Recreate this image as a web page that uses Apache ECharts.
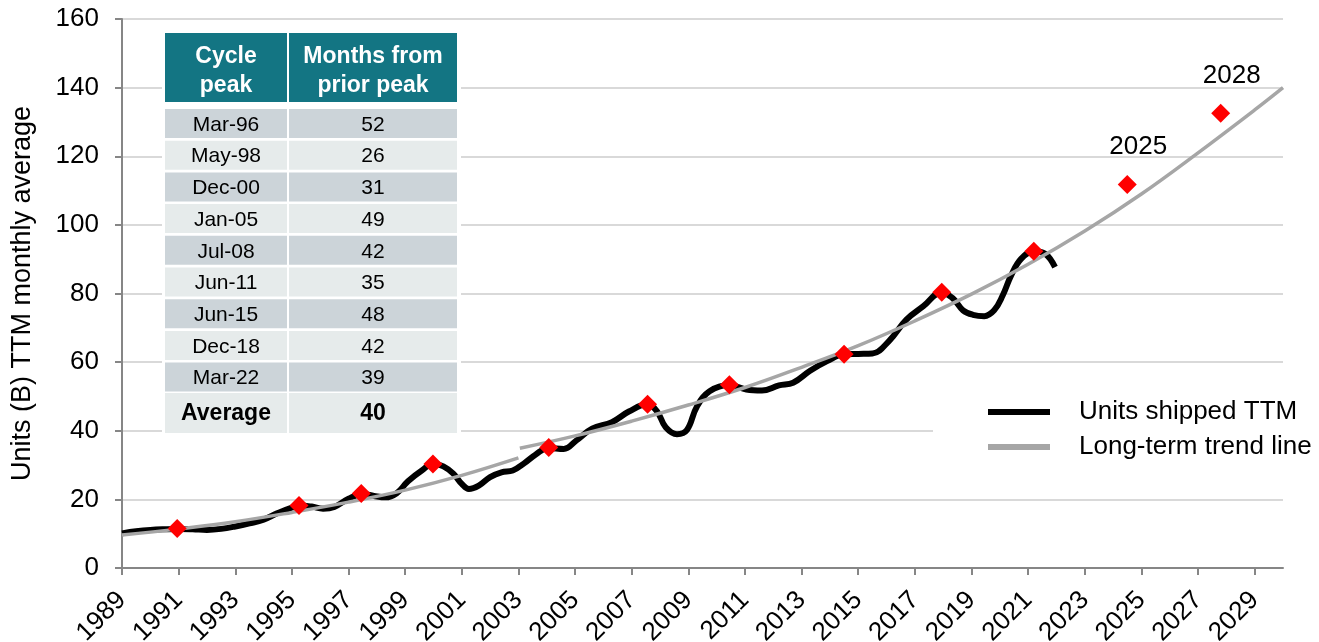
<!DOCTYPE html>
<html>
<head>
<meta charset="utf-8">
<script src="https://cdn.jsdelivr.net/npm/echarts@6/dist/echarts.min.js"></script>
<style>
html, body { margin: 0; padding: 0; background: #fff; }
#main { width: 1319px; height: 642px; }
</style>
</head>
<body>
<div id="main"></div>
<script>
// units shipped, trailing twelve months (billions)
var unitYears = [1989.0, 1989.5, 1990.0, 1990.5, 1991.0, 1991.5, 1992.0, 1992.5, 1993.0, 1993.5, 1994.0, 1994.5,
    1995.0, 1995.3, 1995.7, 1996.1, 1996.5, 1997.0, 1997.5, 1997.9, 1998.3, 1998.7, 1999.1, 1999.6,
    2000.0, 2000.35, 2000.7, 2001.0, 2001.25, 2001.6, 2002.0, 2002.4, 2002.8, 2003.2, 2003.6, 2004.05,
    2004.6, 2005.05, 2005.6, 2006.3, 2006.9, 2007.55, 2007.9, 2008.2, 2008.6, 2008.95, 2009.3, 2009.75,
    2010.45, 2011.05, 2011.6, 2012.2, 2012.7, 2013.3, 2013.9, 2014.5, 2015.0, 2015.5, 2016.1, 2016.7,
    2017.3, 2017.95, 2018.35, 2018.7, 2019.05, 2019.45, 2019.8, 2020.1, 2020.4, 2020.75, 2021.2, 2021.6, 2021.95];
var unitValues = [10.1, 10.7, 11.1, 11.3, 11.4, 11.3, 11.1, 11.4, 12.1, 13.0, 14.1, 16.0,
    17.6, 18.2, 17.9, 17.3, 17.8, 20.2, 21.6, 21.0, 20.6, 21.8, 25.3, 28.5,
    30.4, 29.6, 27.5, 24.5, 23.0, 24.0, 26.5, 27.9, 28.4, 30.5, 33.0, 35.0,
    34.7, 37.2, 40.6, 42.5, 45.6, 47.7, 45.6, 41.0, 39.0, 40.2, 47.0, 51.5,
    53.3, 52.0, 51.7, 53.2, 54.0, 57.5, 60.3, 62.3, 62.4, 62.5, 66.3, 72.4,
    76.3, 80.4, 78.5, 75.1, 73.8, 73.4, 75.1, 79.4, 85.3, 90.1, 92.3, 91.6, 87.7];

// long-term trend line, two pieces
var trendYearsA = [1989, 1991, 1993, 1995, 1997, 1999, 2001, 2003];
var trendValuesA = [9.6, 11.4, 13.5, 16.2, 19.2, 22.7, 27.0, 32.1];
var trendYearsB = [2003.05, 2005, 2007, 2009, 2011, 2013, 2015, 2017, 2019, 2021, 2023, 2025, 2027, 2029, 2030];
var trendValuesB = [34.9, 38.5, 42.8, 47.5, 52.6, 58.5, 64.8, 72.0, 79.8, 88.5, 98.2, 109.0, 121.0, 133.5, 140.0];

// cycle peaks (red diamonds)
var peakYears = [1990.95, 1995.25, 1997.45, 1999.98, 2004.07, 2007.56, 2010.45, 2014.5, 2017.95, 2021.2, 2024.5, 2027.8];
var peakValues = [11.5, 18.2, 21.7, 30.3, 35.1, 47.7, 53.4, 62.3, 80.4, 92.3, 111.8, 132.5];
var peakLabels = ['', '', '', '', '', '', '', '', '', '', '2025', '2028'];

var tickYears = [1989, 1991, 1993, 1995, 1997, 1999, 2001, 2003, 2005, 2007, 2009,
    2011, 2013, 2015, 2017, 2019, 2021, 2023, 2025, 2027, 2029];

// table
var tablePeaks = ['Mar-96', 'May-98', 'Dec-00', 'Jan-05', 'Jul-08', 'Jun-11', 'Jun-15', 'Dec-18', 'Mar-22'];
var tableMonths = [52, 26, 31, 49, 42, 35, 48, 42, 39];
var tableAverage = 40;

var FONT = "'Liberation Sans', Arial, sans-serif";

function zip(xs, ys) {
    var out = [];
    for (var i = 0; i < xs.length && i < ys.length; i++) out.push([xs[i], ys[i]]);
    return out;
}

// table drawn with graphic elements
function buildTable() {
    var els = [];
    var c1x = 165, c1w = 122, c2x = 289, c2w = 168;
    els.push({ type: 'rect', shape: { x: 162, y: 28, width: 299, height: 409 }, style: { fill: '#fff' }, z: 50 });
    els.push({ type: 'rect', shape: { x: c1x, y: 33, width: c1w, height: 69 }, style: { fill: '#137583' }, z: 51 });
    els.push({ type: 'rect', shape: { x: c2x, y: 33, width: c2w, height: 69 }, style: { fill: '#137583' }, z: 51 });
    els.push({ type: 'text', x: c1x + c1w / 2, y: 71, z: 52,
        style: { text: 'Cycle\npeak', fill: '#fff', fontSize: 23, fontWeight: 'bold', fontFamily: FONT,
            align: 'center', verticalAlign: 'middle', lineHeight: 29 } });
    els.push({ type: 'text', x: c2x + c2w / 2, y: 71, z: 52,
        style: { text: 'Months from\nprior peak', fill: '#fff', fontSize: 23, fontWeight: 'bold', fontFamily: FONT,
            align: 'center', verticalAlign: 'middle', lineHeight: 29 } });
    for (var i = 0; i < tablePeaks.length; i++) {
        var top = 109 + i * 31.7;
        var fill = i % 2 === 0 ? '#ccd4d9' : '#e6ebeb';
        els.push({ type: 'rect', shape: { x: c1x, y: top, width: c1w, height: 29 }, style: { fill: fill }, z: 51 });
        els.push({ type: 'rect', shape: { x: c2x, y: top, width: c2w, height: 29 }, style: { fill: fill }, z: 51 });
        els.push({ type: 'text', x: c1x + c1w / 2, y: top + 16, z: 52,
            style: { text: tablePeaks[i], fill: '#000', fontSize: 21, fontFamily: FONT, align: 'center', verticalAlign: 'middle' } });
        els.push({ type: 'text', x: c2x + c2w / 2, y: top + 16, z: 52,
            style: { text: String(tableMonths[i]), fill: '#000', fontSize: 21, fontFamily: FONT, align: 'center', verticalAlign: 'middle' } });
    }
    els.push({ type: 'rect', shape: { x: c1x, y: 393, width: c1w, height: 40 }, style: { fill: '#e6ebeb' }, z: 51 });
    els.push({ type: 'rect', shape: { x: c2x, y: 393, width: c2w, height: 40 }, style: { fill: '#e6ebeb' }, z: 51 });
    els.push({ type: 'text', x: c1x + c1w / 2, y: 414, z: 52,
        style: { text: 'Average', fill: '#000', fontSize: 23, fontWeight: 'bold', fontFamily: FONT, align: 'center', verticalAlign: 'middle' } });
    els.push({ type: 'text', x: c2x + c2w / 2, y: 414, z: 52,
        style: { text: String(tableAverage), fill: '#000', fontSize: 23, fontWeight: 'bold', fontFamily: FONT, align: 'center', verticalAlign: 'middle' } });
    return els;
}

var chart = echarts.init(document.getElementById('main'));

var peakData = [];
for (var i = 0; i < peakYears.length; i++) {
    peakData.push({ value: [peakYears[i], peakValues[i]], label: { show: peakLabels[i] !== '' } });
}

var option = {
    animation: false,
    backgroundColor: '#fff',
    textStyle: { fontFamily: FONT },
    grid: { left: 122, right: 36, top: 19, bottom: 74, outerBoundsMode: 'none', containLabel: false },
    legend: {
        orient: 'vertical',
        left: 933, top: 393,
        data: ['Units shipped TTM', 'Long-term trend line'],
        icon: 'rect',
        itemWidth: 62, itemHeight: 6, itemGap: 9,
        backgroundColor: '#fff',
        padding: [6, 10, 4, 55],
        textStyle: { fontSize: 26, color: '#000', fontFamily: FONT, padding: [0, 0, 0, 24], lineHeight: 26 }
    },
    xAxis: {
        type: 'value',
        min: 1989, max: 2030,
        splitLine: { show: false },
        axisLine: { lineStyle: { color: '#868686', width: 2 } },
        axisTick: { show: true, length: 7, customValues: tickYears, lineStyle: { color: '#868686', width: 2 } },
        axisLabel: {
            customValues: tickYears, rotate: 45, margin: 28, fontSize: 26, color: '#000', fontFamily: FONT,
            formatter: function (v) { return String(v); }
        }
    },
    yAxis: {
        type: 'value',
        min: 0, max: 160, interval: 20,
        name: 'Units (B) TTM monthly average',
        nameLocation: 'middle',
        nameGap: 86,
        nameTextStyle: { fontSize: 27, color: '#000', fontFamily: FONT },
        axisLine: { show: true, lineStyle: { color: '#868686', width: 2 } },
        axisTick: { show: true, length: 7, lineStyle: { color: '#868686', width: 2 } },
        axisLabel: { margin: 23, fontSize: 26, color: '#000', fontFamily: FONT },
        splitLine: { lineStyle: { color: '#d9d9d9', width: 2 } }
    },
    graphic: { elements: buildTable() },
    series: [
        {
            name: 'Units shipped TTM',
            type: 'line',
            data: zip(unitYears, unitValues),
            smooth: 0.4,
            showSymbol: false,
            itemStyle: { color: '#000' },
            lineStyle: { color: '#000', width: 6 },
            z: 2
        },
        {
            name: 'Long-term trend line',
            type: 'line',
            data: zip(trendYearsA, trendValuesA),
            smooth: 0.4,
            showSymbol: false,
            itemStyle: { color: '#a6a6a6' },
            lineStyle: { color: '#a6a6a6', width: 3.5 },
            z: 3
        },
        {
            name: 'Long-term trend line',
            type: 'line',
            data: zip(trendYearsB, trendValuesB),
            smooth: 0.4,
            showSymbol: false,
            itemStyle: { color: '#a6a6a6' },
            lineStyle: { color: '#a6a6a6', width: 3.5 },
            z: 3
        },
        {
            name: 'Cycle peaks',
            type: 'scatter',
            data: peakData,
            symbol: 'diamond',
            symbolSize: 19,
            itemStyle: { color: '#ff0000', opacity: 1 },
            label: {
                show: false,
                position: 'top',
                distance: 15,
                offset: [11, 0],
                fontSize: 26,
                color: '#000',
                fontFamily: FONT,
                formatter: function (p) { return peakLabels[p.dataIndex]; }
            },
            z: 4
        }
    ]
};

chart.setOption(option);
</script>
</body>
</html>
